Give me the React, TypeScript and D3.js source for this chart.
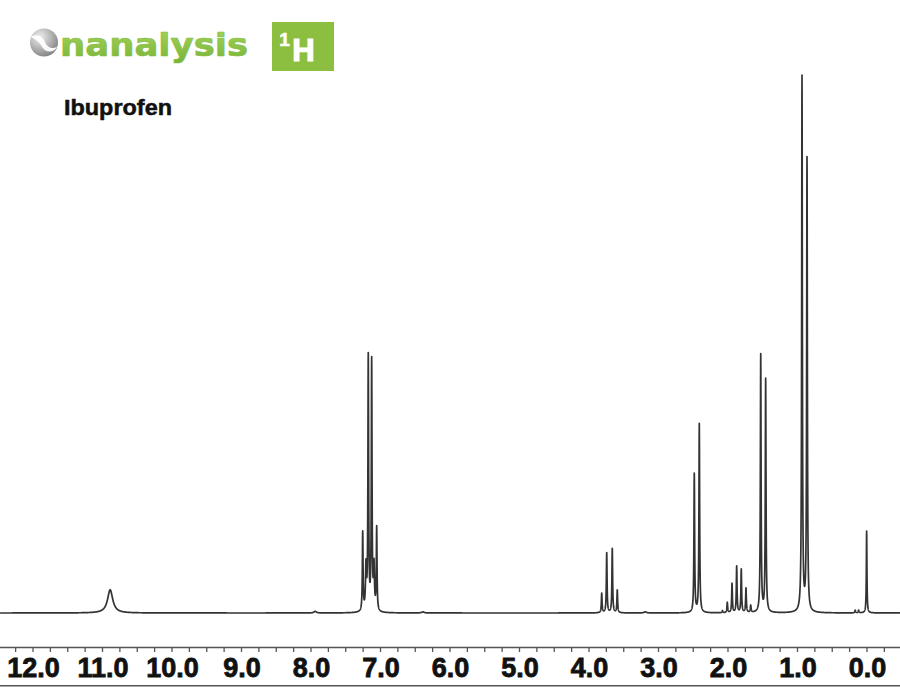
import React from 'react';
import * as d3 from 'd3';

// Peak list (chemical shift in ppm, relative height where tallest = 100, half-width in ppm)
const peakPpm = [
  10.89,
  7.94,
  7.256, 7.209, 7.176, 7.127, 7.094, 7.055,
  6.39,
  3.817, 3.745, 3.665, 3.593,
  3.19,
  2.485, 2.413,
  2.08, 2.010, 1.942, 1.875, 1.809, 1.741, 1.673,
  1.529, 1.458,
  0.935, 0.863,
  0.17, 0.12,
  0.005,
];
const peakHeight = [
  4.3,
  0.3,
  14.6, 8.0, 47.0, 46.2, 8.0, 15.4,
  0.2,
  3.6, 11.1, 11.9, 4.2,
  0.2,
  25.7, 35.0,
  0.4, 1.9, 5.4, 8.6, 8.0, 4.5, 1.3,
  47.8, 43.2,
  99.2, 84.0,
  0.5, 0.5,
  15.2,
];
const peakWidth = [
  0.045,
  0.02,
  0.006, 0.008, 0.006, 0.006, 0.008, 0.006,
  0.02,
  0.006, 0.006, 0.006, 0.006,
  0.02,
  0.006, 0.006,
  0.006, 0.006, 0.006, 0.006, 0.006, 0.006, 0.006,
  0.006, 0.006,
  0.006, 0.006,
  0.006, 0.006,
  0.005,
];

const tickValues = [12, 11, 10, 9, 8, 7, 6, 5, 4, 3, 2, 1, 0];
const tickLabels = ['12.0', '11.0', '10.0', '9.0', '8.0', '7.0', '6.0', '5.0', '4.0', '3.0', '2.0', '1.0', '0.0'];

const W = 900;
const H = 687;

export default function App() {
  const x = d3.scaleLinear().domain([12.475, -0.475]).range([0, W]);
  const y = d3.scaleLinear().domain([0, 100]).range([613, 74]);

  const intensity = (p: number) => {
    let s = 0;
    for (let i = 0; i < peakPpm.length; i++) {
      const w = peakWidth[i];
      const d = p - peakPpm[i];
      s += (peakHeight[i] * w * w) / (w * w + d * d);
    }
    return s;
  };

  const [p0, p1] = x.domain();
  const samples: number[] = d3.range(p1, p0, 0.0012).concat(peakPpm).sort((a, b) => b - a);
  const line = d3
    .line<number>()
    .x((p) => x(p))
    .y((p) => y(intensity(p)));
  const path = line(samples) || '';

  const minorTicks = d3.range(-0.25, 12.3, 0.25);
  const axisY = 647.5;
  const sans = "'Liberation Sans', Arial, Helvetica, sans-serif";

  return (
    <svg
      width={W}
      height={H}
      viewBox={`0 0 ${W} ${H}`}
      style={{ position: 'absolute', left: 0, top: 0, display: 'block', background: '#fff' }}
    >
      <defs>
        <radialGradient id="sphere" cx="0.35" cy="0.3" r="0.8">
          <stop offset="0" stopColor="#eeeeee" />
          <stop offset="0.55" stopColor="#b0b0b0" />
          <stop offset="1" stopColor="#7a7a7a" />
        </radialGradient>
        <linearGradient id="greenText" x1="0" y1="0" x2="0" y2="1">
          <stop offset="0" stopColor="#a8d45e" />
          <stop offset="1" stopColor="#78b436" />
        </linearGradient>
      </defs>

      {/* logo */}
      <circle cx={44} cy={42.5} r={14} fill="url(#sphere)" />
      <path
        d="M31,37 C36,33 43,37 45,42 C47,47 52,50 57,46.5 C55,52.5 46,53.5 42.5,47.5 C40,43 36,39.5 31,37 Z"
        fill="#ffffff"
        opacity={0.95}
      />
      <text
        x={60}
        y={55.5}
        fontFamily="'DejaVu Sans', Verdana, sans-serif"
        fontWeight="bold"
        fontSize={32}
        fill="url(#greenText)"
        stroke="#85bf45"
        strokeWidth={0.7}
        strokeLinejoin="round"
        textLength={188}
        lengthAdjust="spacingAndGlyphs"
      >
        nanalysis
      </text>
      <rect x={272} y={22} width={62} height={49} fill="#8cbf40" />
      <text x={284.5} y={45.5} textAnchor="middle" fontFamily={sans} fontWeight="bold" fontSize={19} fill="#fff" stroke="#fff" strokeWidth={0.6}>
        1
      </text>
      <text x={303.5} y={60.5} textAnchor="middle" fontFamily={sans} fontWeight="bold" fontSize={31} fill="#fff" stroke="#fff" strokeWidth={1.2}>
        H
      </text>

      <text
        x={64}
        y={115}
        fontFamily={sans}
        fontWeight="bold"
        fontSize={22}
        fill="#111"
        stroke="#111"
        strokeWidth={0.5}
        textLength={108}
        lengthAdjust="spacingAndGlyphs"
      >
        Ibuprofen
      </text>

      {/* spectrum */}
      <path d={path} fill="none" stroke="#333" strokeWidth={1.7} strokeLinejoin="round" />

      {/* axis */}
      <line x1={0} x2={W} y1={axisY} y2={axisY} stroke="#555" strokeWidth={1.6} />
      {minorTicks.map((t) => (
        <line key={t} x1={x(t)} x2={x(t)} y1={axisY} y2={axisY + 4.5} stroke="#555" strokeWidth={1.3} />
      ))}
      {tickValues.map((t, i) => (
        <text
          key={t}
          x={x(t) + 0.5}
          y={677}
          textAnchor="middle"
          fontFamily={sans}
          fontWeight="bold"
          fontSize={27}
          fill="#111"
          stroke="#111"
          strokeWidth={0.8}
        >
          {tickLabels[i]}
        </text>
      ))}
      <line x1={0} x2={W} y1={685.8} y2={685.8} stroke="#555" strokeWidth={1.6} />
    </svg>
  );
}
